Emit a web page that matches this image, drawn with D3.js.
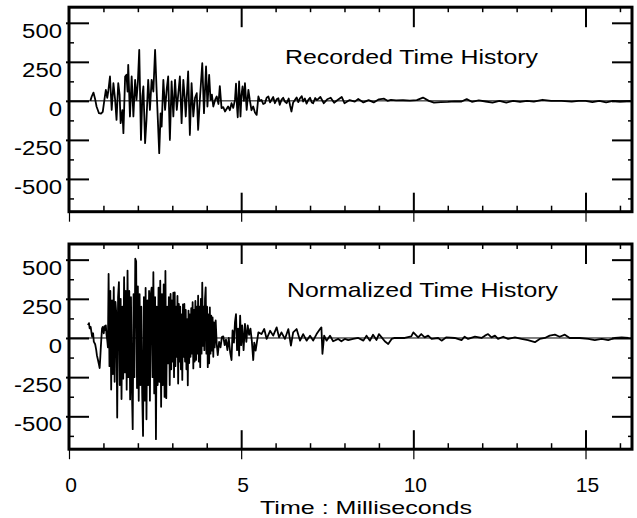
<!DOCTYPE html>
<html>
<head>
<meta charset="utf-8">
<script src="https://cdn.jsdelivr.net/npm/d3@7"></script>
<style>
  html, body { margin: 0; padding: 0; background: #fff; }
  svg { display: block; }
  text { font-family: Arial, "Liberation Sans", sans-serif; fill: #000; }
</style>
</head>
<body>
<svg id="chart" width="637" height="518"></svg>
<script>
// ----- data: [time ms, value] -----
const recordedBurst = [
  [0.62,0],[0.66,28],[0.71,53],[0.76,10],[0.80,-36],[0.87,-79],[0.93,-82],[0.98,-70],[1.03,10],[1.07,70],
  [1.11,20],[1.14,60],[1.19,156],[1.24,-58],[1.29,113],[1.34,6],[1.38,-122],[1.43,113],[1.47,40],[1.50,-143],
  [1.55,-60],[1.58,-207],[1.63,156],[1.67,167],[1.70,60],[1.72,231],[1.77,-100],[1.82,156],[1.87,-100],[1.92,135],
  [1.96,6],[2.00,120],[2.04,327],[2.09,-250],[2.13,30],[2.16,92],[2.21,-271],[2.25,-122],[2.30,135],[2.35,-58],
  [2.40,135],[2.45,60],[2.50,327],[2.54,92],[2.58,-120],[2.62,-335],[2.66,-80],[2.69,-165],[2.74,135],[2.79,-58],
  [2.84,80],[2.88,156],[2.93,-250],[2.98,124],[3.03,-100],[3.08,135],[3.13,-58],[3.18,60],[3.22,156],[3.27,-143],
  [3.32,135],[3.36,20],[3.39,-100],[3.46,188],[3.51,-218],[3.56,113],[3.61,-100],[3.66,20],[3.71,49],[3.75,-186],
  [3.80,6],[3.87,241],[3.92,-79],[3.98,220],[4.02,-36],[4.07,167],[4.11,6],[4.15,40],[4.19,-36],[4.25,10],
  [4.29,28],[4.34,-20],[4.38,95],[4.43,-47],[4.48,-40],[4.53,-68],[4.58,-50],[4.62,-36],[4.67,-60],[4.72,-15],
  [4.77,-45],[4.82,6],[4.85,110],[4.88,-40],[4.90,-105],[4.94,124],[4.98,-100],[5.01,40],[5.04,92],[5.08,0],
  [5.11,113],[5.16,-58],[5.21,70],[5.25,6],[5.30,-60],[5.35,-36],[5.40,-75],[5.45,-90],[5.50,28]
];
const recordedTail = [
  [5.54,0],[5.59,6],[5.64,-20],[5.69,-15],[5.74,20],[5.79,28],[5.84,-10],[5.88,6],[5.93,25],[5.98,-15],
  [6.03,10],[6.08,17],[6.12,-25],[6.17,6],[6.22,20],[6.27,-5],[6.32,-15],[6.38,15],[6.42,-30],[6.46,-68],
  [6.51,-10],[6.56,6],[6.61,22],[6.66,-8],[6.71,17],[6.76,30],[6.80,-4],[6.85,15],[6.90,-18],[6.95,6],
  [7.00,20],[7.05,-10],[7.09,-15],[7.15,18],[7.20,5],[7.30,25],[7.40,-15],[7.50,10],[7.60,20],[7.70,-12],
  [7.80,5],[7.92,25],[8.00,-15],[8.15,5],[8.30,-5],[8.40,12],[8.55,-10],[8.70,5],[8.85,-10],[9.00,10],
  [9.15,14],[9.25,0],[9.35,6],[9.50,3],[9.70,4],[9.90,2],[10.10,5],[10.28,21],[10.45,0],[10.60,-11],
  [10.80,-8],[11.00,-6],[11.20,-3],[11.40,-4],[11.55,11],[11.70,-6],[11.90,3],[12.10,-4],[12.30,-11],[12.50,0],
  [12.70,-11],[12.90,0],[13.10,-6],[13.30,0],[13.50,-5],[13.75,7],[14.00,0],[14.30,0],[14.60,-5],[14.80,0],
  [15.00,0],[15.20,-8],[15.40,0],[15.60,-10],[15.80,0],[16.00,-5],[16.30,0]
];

const normalizedStart = [
  [0.55,82],[0.58,95],[0.60,61],[0.63,70],[0.67,8],[0.70,30],[0.72,-23],[0.76,-40],[0.79,-76],[0.81,-110],
  [0.84,-139],[0.87,-170],[0.89,-192],[0.91,-120],[0.92,-76],[0.94,0],[0.96,61],[0.98,70],[1.01,30],[1.03,75],
  [1.05,51],[1.07,80],[1.09,20],[1.11,-13],[1.13,-60]
];
const normalizedBurst = [
  [1.150,409],[1.175,-180],[1.200,300],[1.225,-329],[1.250,240],[1.275,-230],[1.300,325],[1.325,-280],
  [1.350,230],[1.375,150],[1.400,-508],[1.425,260],[1.450,357],[1.475,-300],[1.500,250],[1.525,-390],
  [1.550,200],[1.575,-260],[1.600,388],[1.625,-220],[1.650,300],[1.675,-330],[1.700,430],[1.725,-250],
  [1.750,300],[1.775,-392],[1.800,260],[1.825,-300],[1.850,-582],[1.875,280],[1.900,-250],[1.925,506],
  [1.950,490],[1.975,-320],[2.000,330],[2.025,-401],[2.050,280],[2.075,-300],[2.100,200],[2.125,-350],
  [2.150,-625],[2.175,260],[2.200,-400],[2.225,320],[2.250,-519],[2.275,240],[2.300,-300],[2.325,300],
  [2.350,-400],[2.375,280],[2.400,321],[2.425,-250],[2.450,420],[2.475,-354],[2.500,260],[2.525,-646],
  [2.550,200],[2.575,-300],[2.600,321],[2.625,-280],[2.650,366],[2.675,-439],[2.700,280],[2.725,-300],
  [2.750,342],[2.775,-376],[2.800,428],[2.825,-384],[2.850,200],[2.875,-162],[2.900,260],[2.925,-300],
  [2.950,281],[2.970,-200],[2.990,240],[3.010,-150],[3.030,289],[3.050,-250],[3.070,291],[3.090,-180],
  [3.110,200],[3.130,-120],[3.150,268],[3.170,-291],[3.190,217],[3.210,-150],[3.230,200],[3.250,-200],
  [3.270,150],[3.290,-268],[3.310,215],[3.330,-120],[3.350,217],[3.370,-150],[3.390,180],[3.410,-200],
  [3.430,120],[3.450,-302],[3.470,175],[3.490,-160],[3.510,150],[3.530,-120],[3.550,190],[3.570,-100],
  [3.590,228],[3.610,-194],[3.630,180],[3.650,-150],[3.670,236],[3.690,-140],[3.710,200],[3.730,-100],
  [3.750,270],[3.770,-150],[3.790,200],[3.810,-186],[3.830,250],[3.850,-100],[3.870,354],[3.890,-50],
  [3.910,200],[3.930,-78],[3.950,250],[3.970,323],[3.990,-100],[4.010,200],[4.030,-186],[4.050,150],
  [4.070,-162],[4.090,196],[4.110,-100],[4.130,143],[4.150,-80],[4.170,131],[4.190,-120],[4.210,100],
  [4.230,-60],[4.260,112],[4.290,-40],[4.320,-110],[4.360,-25],[4.400,-60],[4.440,6],
  [4.480,10],[4.520,-46],[4.560,-10],[4.600,-78],[4.640,0],[4.680,-91],[4.720,-141],[4.750,48],
  [4.790,-30],[4.820,101],[4.850,152],[4.880,-78],[4.910,59],[4.940,-112],[4.970,143],[5.000,-46],
  [5.030,80],[5.070,-78],[5.110,90],[5.150,-25],[5.190,80],[5.230,20],[5.270,60],[5.310,-20],
  [5.350,-141],[5.380,-30],[5.420,-80]
];
const normalizedTail = [
  [5.50,36],[5.59,25],[5.67,57],[5.74,-6],[5.84,46],[5.93,15],[6.03,68],[6.10,4],[6.17,36],[6.27,-6],
  [6.37,57],[6.445,-49],[6.51,36],[6.61,57],[6.71,-17],[6.80,25],[6.90,-17],[7.00,15],[7.09,-17],[7.19,25],
  [7.29,57],[7.33,68],[7.36,-101],[7.41,15],[7.48,-17],[7.58,15],[7.67,-21],[7.82,-6],[7.91,-21],[8.01,-6],
  [8.11,-13],[8.25,-6],[8.40,0],[8.55,-17],[8.64,15],[8.74,-17],[8.83,21],[8.93,-13],[9.00,25],[9.08,4],
  [9.17,-21],[9.27,-38],[9.37,-6],[9.46,0],[9.75,0],[9.94,10],[10.00,36],[10.14,4],[10.23,25],[10.33,4],
  [10.43,15],[10.53,-6],[10.72,0],[10.82,-17],[10.96,4],[11.20,0],[11.40,-13],[11.49,8],[11.59,-6],[11.79,8],
  [11.98,0],[12.08,15],[12.17,25],[12.27,4],[12.37,15],[12.46,-6],[12.61,8],[12.75,-6],[12.95,4],[13.14,-6],
  [13.33,-13],[13.53,-27],[13.67,-6],[13.82,0],[13.96,15],[14.11,21],[14.25,8],[14.40,21],[14.54,0],[14.69,0],
  [14.83,0],[15.08,-6],[15.27,-13],[15.47,-6],[15.66,-13],[15.85,0],[16.05,4],[16.25,0]
];

const yMajor = [-500, -250, 0, 250, 500];
const yMinor = [-625, -375, -125, 125, 375];
const xMajor = [0, 5, 10, 15];
const xMinor = [1, 2, 3, 4, 6, 7, 8, 9, 11, 12, 13, 14, 16];
const panelTitles = ["Recorded Time History", "Normalized Time History"];
const xTitle = "Time : Milliseconds";

const svg = d3.select("#chart");
svg.append("rect").attr("width", 637).attr("height", 518).attr("fill", "#fff");

const x = d3.scaleLinear().domain([0, 16.35]).range([69, 632]);

// add an axis, strip its domain path and labels, style its tick lines
function tickAxis(parent, axis, tx, ty, sw) {
  const a = parent.append("g").attr("transform", `translate(${tx},${ty})`).call(axis);
  a.select(".domain").remove();
  a.selectAll("text").remove();
  a.selectAll("line").attr("stroke", "#000").attr("stroke-width", sw);
  return a;
}

function drawPanel(cfg) {
  const y = d3.scaleLinear().domain([-710, 600]).range([cfg.bottom, cfg.top]);
  const g = svg.append("g");
  const x0 = x.range()[0], x1 = x.range()[1];

  // zero reference line
  g.append("line")
      .attr("x1", x0).attr("x2", x1)
      .attr("y1", y(0)).attr("y2", y(0))
      .attr("stroke", "#000").attr("stroke-width", 1);

  // trace
  g.append("path")
      .datum(cfg.data)
      .attr("d", d3.line().x(d => x(d[0])).y(d => y(d[1])))
      .attr("fill", "none")
      .attr("stroke", "#000")
      .attr("stroke-width", 1.8)
      .attr("stroke-linejoin", "round");

  // ticks
  tickAxis(g, d3.axisLeft(y).tickValues(yMajor).tickSizeInner(-20).tickSizeOuter(0), x0, 0, 2)
      .selectAll("line").attr("x1", -3);
  tickAxis(g, d3.axisLeft(y).tickValues(yMinor).tickSizeInner(-5).tickSizeOuter(0), x0, 0, 1.5);
  tickAxis(g, d3.axisRight(y).tickValues(yMajor).tickSizeInner(-20).tickSizeOuter(0), x1, 0, 2);
  tickAxis(g, d3.axisRight(y).tickValues(yMinor).tickSizeInner(-4).tickSizeOuter(0), x1, 0, 1.5);
  tickAxis(g, d3.axisTop(x).tickValues([5, 10, 15]).tickSizeInner(-20).tickSizeOuter(0), 0, cfg.top, 2);
  tickAxis(g, d3.axisTop(x).tickValues(xMinor).tickSizeInner(-5).tickSizeOuter(0), 0, cfg.top, 1.5);
  tickAxis(g, d3.axisBottom(x).tickValues([5, 10, 15]).tickSizeInner(-19).tickSizeOuter(0), 0, cfg.bottom, 2);
  tickAxis(g, d3.axisBottom(x).tickValues(xMinor).tickSizeInner(-6).tickSizeOuter(0), 0, cfg.bottom, 1.5);
  tickAxis(g, d3.axisBottom(x).tickValues(xMajor).tickSizeInner(10).tickSizeOuter(0), 0, cfg.bottom, 1.2);

  // y tick labels, hanging just under each tick
  yMajor.forEach(v => {
    g.append("text")
        .attr("transform", `translate(62,${y(v) + 15}) scale(1.14,1)`)
        .attr("text-anchor", "end")
        .attr("font-size", 21)
        .text(v);
  });

  // panel title
  g.append("text")
      .attr("x", cfg.titleX).attr("y", cfg.titleY)
      .attr("font-size", 21)
      .attr("textLength", cfg.titleW)
      .attr("lengthAdjust", "spacingAndGlyphs")
      .text(cfg.title);

  // frame
  g.append("rect")
      .attr("x", x0).attr("y", cfg.top)
      .attr("width", x1 - x0).attr("height", cfg.bottom - cfg.top)
      .attr("fill", "none").attr("stroke", "#000").attr("stroke-width", 3);

  return y;
}

drawPanel({
  top: 7.2, bottom: 211.7,
  data: recordedBurst.concat(recordedTail),
  title: panelTitles[0], titleX: 285, titleY: 64, titleW: 253
});
drawPanel({
  top: 244, bottom: 449.2,
  data: normalizedStart.concat(normalizedBurst, normalizedTail),
  title: panelTitles[1], titleX: 287, titleY: 297, titleW: 271
});

// x tick labels and axis title under the lower panel
xMajor.forEach(v => {
  svg.append("text")
      .attr("x", x(v) + 2).attr("y", 492)
      .attr("text-anchor", "middle")
      .attr("font-size", 21)
      .text(v);
});
svg.append("text")
    .attr("x", 366).attr("y", 514)
    .attr("text-anchor", "middle")
    .attr("font-size", 19)
    .attr("textLength", 212)
    .attr("lengthAdjust", "spacingAndGlyphs")
    .text(xTitle);
</script>
</body>
</html>
